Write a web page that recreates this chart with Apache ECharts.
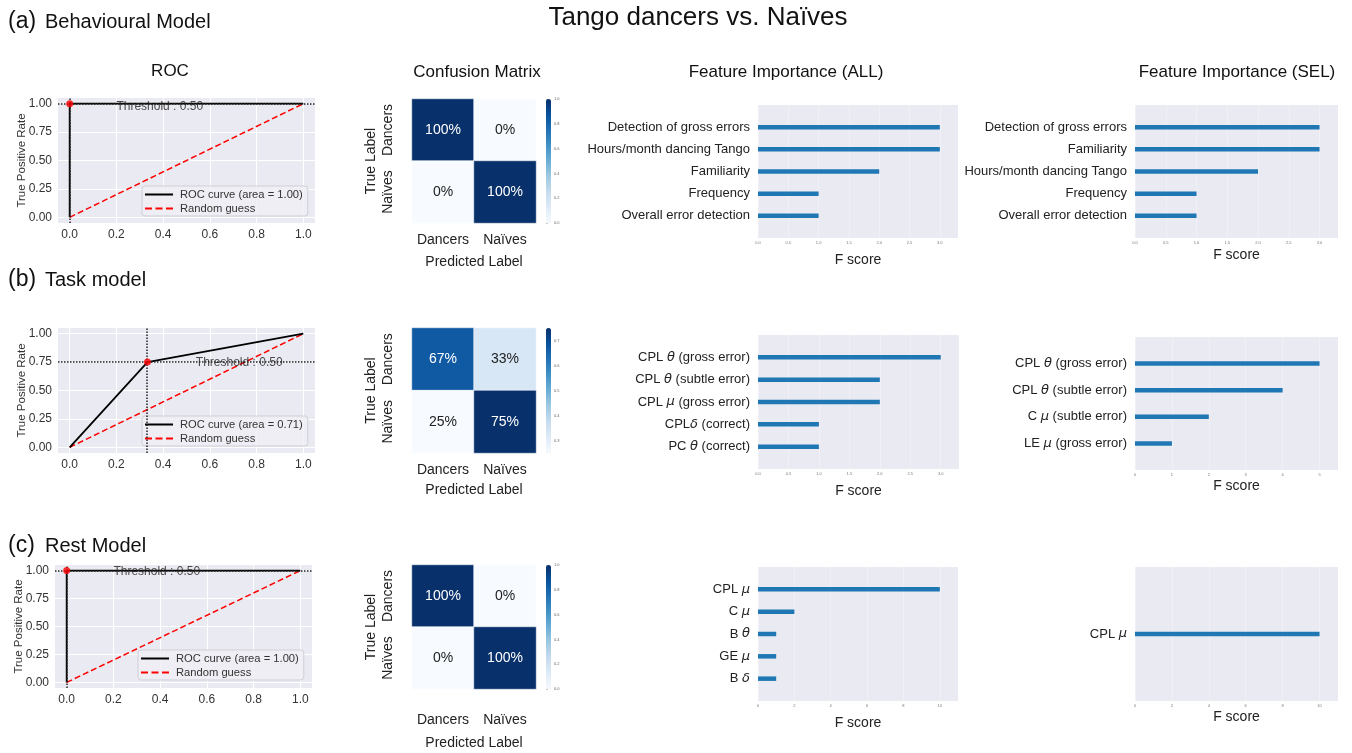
<!DOCTYPE html>
<html>
<head>
<meta charset="utf-8">
<script src="https://cdn.jsdelivr.net/npm/echarts@6/dist/echarts.min.js"></script>
<style>
html, body { margin: 0; padding: 0; background: #fff; }
#main { width: 1352px; height: 753px; }
</style>
</head>
<body>
<div id="main"></div>
<script>
// ---- ROC data ----
var rocFprA = [0, 0, 1], rocTprA = [0, 1, 1];
var rocFprB = [0, 0.333, 1], rocTprB = [0, 0.75, 1];
var rocFprC = [0, 0, 1], rocTprC = [0, 1, 1];
var rocArea = [1.00, 0.71, 1.00];
var guessFpr = [0, 1], guessTpr = [0, 1];
var thrFpr = [0, 0.333, 0];
var thrTpr = [1, 0.75, 1];
var thrTextPos = [[0.2, 0.975], [0.54, 0.745], [0.2, 0.99]];
var rocXTicks = [0, 0.2, 0.4, 0.6, 0.8, 1.0];
var rocYTicks = [0, 0.25, 0.5, 0.75, 1.0];

// ---- confusion matrices (rows: true label, cols: predicted) ----
var cmLabels = ['Dancers', 'Naïves'];
var cmA = [[1.00, 0.00], [0.00, 1.00]];
var cmB = [[0.67, 0.33], [0.25, 0.75]];
var cmC = [[1.00, 0.00], [0.00, 1.00]];
var cbTicksFull = [0, 0.2, 0.4, 0.6, 0.8, 1.0];
var cbTicksB = [0.3, 0.4, 0.5, 0.6, 0.7];

// ---- feature importance ----
var fiAllA = ['Detection of gross errors', 'Hours/month dancing Tango', 'Familiarity', 'Frequency', 'Overall error detection'];
var fiAllAVal = [3, 3, 2, 1, 1];
var fiSelA = ['Detection of gross errors', 'Familiarity', 'Hours/month dancing Tango', 'Frequency', 'Overall error detection'];
var fiSelAVal = [3, 3, 2, 1, 1];
var fiAllB = ['CPL θ (gross error)', 'CPL θ (subtle error)', 'CPL μ (gross error)', 'CPLδ (correct)', 'PC θ (correct)'];
var fiAllBVal = [3, 2, 2, 1, 1];
var fiSelB = ['CPL θ (gross error)', 'CPL θ (subtle error)', 'C μ (subtle error)', 'LE μ (gross error)'];
var fiSelBVal = [5, 4, 2, 1];
var fiAllC = ['CPL μ', 'C μ', 'B θ', 'GE μ', 'B δ'];
var fiAllCVal = [10, 2, 1, 1, 1];
var fiSelC = ['CPL μ'];
var fiSelCVal = [10];
var fiTicksHalf = [0, 0.5, 1.0, 1.5, 2.0, 2.5, 3.0];
var fiTicksFive = [0, 1, 2, 3, 4, 5];
var fiTicksTen = [0, 2, 4, 6, 8, 10];

var chart = echarts.init(document.getElementById('main'));
var FONT = '"Liberation Sans", Arial, sans-serif';
var BG = '#eaeaf2';
var BLUES = ['#f7fbff', '#deebf7', '#c6dbef', '#9ecae1', '#6baed6', '#4292c6', '#2171b5', '#08519c', '#08306b'];
var ICON_SOLID = 'path://M0,0H28V2H0Z';
var ICON_DASHED = 'path://M0,0H7V2H0Z M10.5,0H17.5V2H10.5Z M21,0H28V2H21Z';

var grids = [], xAxes = [], yAxes = [], series = [], legends = [], visualMaps = [];

function addGrid(box, bg) {
    grids.push({
        left: box[0], top: box[1], width: box[2], height: box[3],
        show: !!bg, backgroundColor: bg || 'transparent', borderWidth: 0,
        containLabel: false, outerBoundsMode: 'none'
    });
    return grids.length - 1;
}

function greek(s) {
    return s.replace(/([θμδ])/g, '{g|$1}');
}

function rocPanel(k, box, fpr, tpr, legendPos) {
    var g = addGrid(box, BG);
    xAxes.push({
        gridIndex: g, type: 'value', min: -0.05, max: 1.05,
        axisLine: { show: false },
        axisTick: { show: false, customValues: rocXTicks },
        axisLabel: { customValues: rocXTicks, formatter: function (v) { return v.toFixed(1); }, fontSize: 12, color: '#333', margin: 6, fontFamily: FONT },
        splitLine: { show: true, lineStyle: { color: '#fff', width: 1 } }
    });
    yAxes.push({
        gridIndex: g, type: 'value', min: -0.05, max: 1.05,
        axisLine: { show: false },
        axisTick: { show: false, customValues: rocYTicks },
        axisLabel: { customValues: rocYTicks, formatter: function (v) { return v.toFixed(2); }, fontSize: 12, color: '#333', margin: 6, fontFamily: FONT },
        splitLine: { show: true, lineStyle: { color: '#fff', width: 1 } },
        name: 'True Positive Rate', nameLocation: 'middle', nameGap: 30, nameMoveOverlap: false,
        nameTextStyle: { fontSize: 11.5, color: '#333', fontFamily: FONT }
    });
    var ax = xAxes.length - 1;
    var rocName = 'ROC curve (area = ' + rocArea[k].toFixed(2) + ')';
    series.push({
        type: 'line', name: rocName, xAxisIndex: ax, yAxisIndex: ax,
        data: fpr.map(function (x, j) { return [x, tpr[j]]; }),
        symbol: 'none', lineStyle: { color: '#000', width: 1.8 }, itemStyle: { color: '#000' }, z: 3
    });
    series.push({
        type: 'line', name: 'Random guess', xAxisIndex: ax, yAxisIndex: ax,
        data: guessFpr.map(function (x, j) { return [x, guessTpr[j]]; }),
        symbol: 'none', lineStyle: { color: '#ff0000', width: 1.5, type: 'dashed' }, itemStyle: { color: '#ff0000' }, z: 2
    });
    series.push({
        type: 'scatter', xAxisIndex: ax, yAxisIndex: ax,
        data: [[thrFpr[k], thrTpr[k]]], symbolSize: 7, itemStyle: { color: '#ff0000' }, z: 6, silent: true,
        markLine: {
            silent: true, symbol: 'none', label: { show: false },
            lineStyle: { color: '#222', type: 'dotted', width: 1.5 },
            data: [{ xAxis: thrFpr[k] }, { yAxis: thrTpr[k] }]
        }
    });
    series.push({
        type: 'scatter', xAxisIndex: ax, yAxisIndex: ax, silent: true,
        data: [thrTextPos[k]], symbolSize: 0, z: 5,
        label: { show: true, position: 'right', distance: 0, formatter: 'Threshold : 0.50', fontSize: 12, color: '#222', fontFamily: FONT }
    });
    legends.push({
        data: [{ name: rocName, icon: ICON_SOLID }, { name: 'Random guess', icon: ICON_DASHED }],
        left: legendPos[0], top: legendPos[1], orient: 'vertical',
        itemWidth: 28, itemHeight: 2, itemGap: 3, padding: [3, 5, 2, 3],
        backgroundColor: 'rgba(238,238,245,0.85)', borderColor: '#cfcfd8', borderWidth: 1, borderRadius: 3,
        selectedMode: false,
        textStyle: { fontSize: 11.2, color: '#333', fontFamily: FONT, padding: [0, 0, 0, 2] }
    });
}

function cmPanel(box, cm, vmin, vmax, cbTicks, labelMargin, nameGap) {
    var g = addGrid(box);
    xAxes.push({
        gridIndex: g, type: 'category', data: cmLabels, position: 'bottom',
        axisLine: { show: false }, axisTick: { show: false }, splitLine: { show: false },
        axisLabel: { interval: 0, fontSize: 14, color: '#222', margin: labelMargin, fontFamily: FONT },
        name: 'Predicted Label', nameLocation: 'middle', nameGap: nameGap,
        nameTextStyle: { fontSize: 14, color: '#222', fontFamily: FONT }
    });
    yAxes.push({
        gridIndex: g, type: 'category', data: cmLabels, inverse: true,
        axisLine: { show: false }, axisTick: { show: false }, splitLine: { show: false },
        axisLabel: { interval: 0, rotate: 90, fontSize: 14, color: '#222', margin: 17, fontFamily: FONT },
        name: 'True Label', nameLocation: 'middle', nameRotate: 90, nameGap: 34,
        nameTextStyle: { fontSize: 14, color: '#222', fontFamily: FONT }
    });
    var ax = xAxes.length - 1;
    var data = [];
    cm.forEach(function (row, i) {
        row.forEach(function (v, j) {
            var dark = (v - vmin) / (vmax - vmin) > 0.5;
            data.push({ value: [j, i, v], label: { color: dark ? '#fff' : '#222' } });
        });
    });
    series.push({
        type: 'heatmap', xAxisIndex: ax, yAxisIndex: ax, data: data,
        label: { show: true, fontSize: 14, fontFamily: FONT, formatter: function (p) { return Math.round(p.value[2] * 100) + '%'; } },
        itemStyle: { borderColor: '#fff', borderWidth: 0.5 }
    });
    var cbLeft = box[0] + box[2] + 10;
    visualMaps.push({
        type: 'continuous', seriesIndex: series.length - 1, min: vmin, max: vmax,
        inRange: { color: BLUES }, calculable: false, hoverLink: false,
        left: cbLeft, top: box[1], itemWidth: 5, itemHeight: box[3], padding: 0,
        text: null, showLabel: false
    });
    var cg = addGrid([cbLeft, box[1], 5, box[3]]);
    xAxes.push({ gridIndex: cg, type: 'value', show: false, min: 0, max: 1 });
    yAxes.push({
        gridIndex: cg, type: 'value', position: 'right', min: vmin, max: vmax,
        axisLine: { show: false }, splitLine: { show: false },
        axisTick: { show: true, length: 2, customValues: cbTicks, lineStyle: { color: '#999', width: 0.5 } },
        axisLabel: { customValues: cbTicks, fontSize: 4, color: '#666', margin: 3, formatter: function (v) { return v.toFixed(1); } }
    });
}

function fiPanel(box, names, vals, xmax, ticks, dec, nameGap) {
    var g = addGrid(box, BG);
    xAxes.push({
        gridIndex: g, type: 'value', min: 0, max: xmax,
        axisLine: { show: false },
        axisTick: { show: false, customValues: ticks },
        axisLabel: { customValues: ticks, fontSize: 4, color: '#777', margin: 3, formatter: function (v) { return v.toFixed(dec); } },
        splitLine: { show: true, lineStyle: { color: '#f4f4f8', width: 0.6 } },
        name: 'F score', nameLocation: 'middle', nameGap: nameGap,
        nameTextStyle: { fontSize: 14, color: '#222', fontFamily: FONT }
    });
    yAxes.push({ gridIndex: g, type: 'value', show: false, min: 0, max: 1 });
    var n = names.length, band = box[3] / (n + 1);
    var bg2 = addGrid([box[0], box[1] + band / 2, box[2], band * n]);
    xAxes.push({ gridIndex: bg2, type: 'value', min: 0, max: xmax, show: false });
    yAxes.push({
        gridIndex: bg2, type: 'category', data: names, inverse: true,
        axisLine: { show: false }, axisTick: { show: false }, splitLine: { show: false },
        axisLabel: {
            interval: 0, fontSize: 13, color: '#222', margin: 8, fontFamily: FONT,
            formatter: greek,
            rich: { g: { fontSize: 13, color: '#222', fontStyle: 'italic', fontFamily: '"DejaVu Sans", sans-serif' } }
        }
    });
    var ax = xAxes.length - 1;
    series.push({
        type: 'bar', xAxisIndex: ax, yAxisIndex: ax, data: vals,
        barWidth: 4.5, itemStyle: { color: '#1f77b4' }, silent: true
    });
}

// row (a)
rocPanel(0, [58, 98, 257, 125], rocFprA, rocTprA, [142, 186]);
cmPanel([412, 99, 124, 124], cmA, 0, 1, cbTicksFull, 10, 32);
fiPanel([758, 105, 200, 133], fiAllA, fiAllAVal, 3.3, fiTicksHalf, 1, 15);
fiPanel([1135, 105, 203, 133], fiSelA, fiSelAVal, 3.3, fiTicksHalf, 1, 10);
// row (b)
rocPanel(1, [58, 328, 257, 125], rocFprB, rocTprB, [142, 416]);
cmPanel([412, 328, 124, 125], cmB, 0.25, 0.75, cbTicksB, 10, 30);
fiPanel([758, 335, 201, 134], fiAllB, fiAllBVal, 3.3, fiTicksHalf, 1, 15);
fiPanel([1135, 337, 203, 133], fiSelB, fiSelBVal, 5.5, fiTicksFive, 0, 9);
// row (c)
rocPanel(2, [55, 565, 257, 123], rocFprC, rocTprC, [138, 650]);
cmPanel([412, 565, 124, 124], cmC, 0, 1, cbTicksFull, 24, 47);
fiPanel([758, 567, 200, 134], fiAllC, fiAllCVal, 11, fiTicksTen, 0, 15);
fiPanel([1135, 567, 203, 134], fiSelC, fiSelCVal, 11, fiTicksTen, 0, 9);

function txt(x, y, s, size, align) {
    return {
        type: 'text', x: x, y: y, silent: true,
        style: { text: s, fontSize: size, fontFamily: FONT, fill: '#111', align: align || 'center', verticalAlign: 'middle' }
    };
}

var option = {
    animation: false,
    backgroundColor: '#fff',
    grid: grids,
    xAxis: xAxes,
    yAxis: yAxes,
    legend: legends,
    visualMap: visualMaps,
    series: series,
    graphic: [
        txt(698, 18, 'Tango dancers vs. Naïves', 26),
        txt(8, 22, '(a)', 23, 'left'), txt(45, 22, 'Behavioural Model', 20, 'left'),
        txt(8, 280, '(b)', 23, 'left'), txt(45, 280, 'Task model', 20, 'left'),
        txt(8, 546, '(c)', 23, 'left'), txt(45, 546, 'Rest Model', 20, 'left'),
        txt(170, 71, 'ROC', 17),
        txt(477, 72, 'Confusion Matrix', 17),
        txt(786, 72, 'Feature Importance (ALL)', 17),
        txt(1237, 72, 'Feature Importance (SEL)', 17)
    ]
};
chart.setOption(option);
window.onresize = chart.resize;
</script>
</body>
</html>
